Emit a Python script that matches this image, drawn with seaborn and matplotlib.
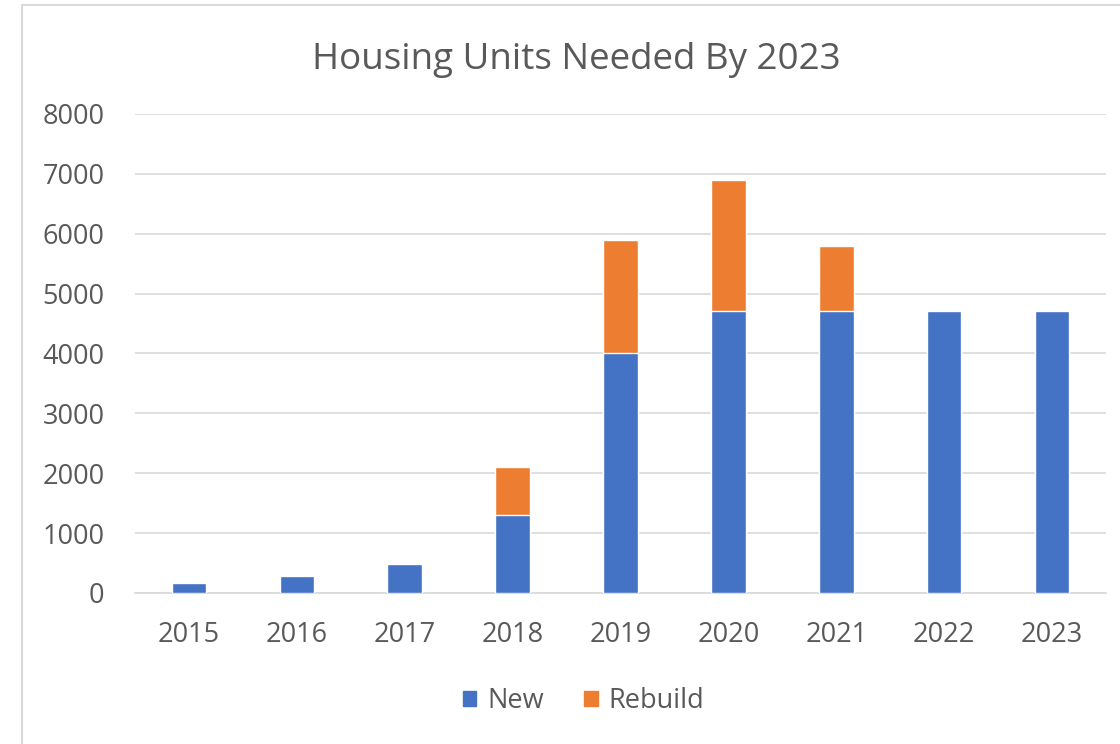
import numpy as np
import pandas as pd
import matplotlib.pyplot as plt
import matplotlib.patches as mpatches
import seaborn as sns

# Data
years = ['2015', '2016', '2017', '2018', '2019', '2020', '2021', '2022', '2023']
new_units = [170, 290, 480, 1300, 4000, 4700, 4700, 4700, 4700]
rebuild_units = [0, 0, 0, 800, 1900, 2200, 1100, 0, 0]

df = pd.DataFrame({'year': years, 'New': new_units, 'Rebuild': rebuild_units})
df['total'] = df['New'] + df['Rebuild']

sns.set_theme(style='white')
plt.rcParams['font.family'] = ['Open Sans', 'DejaVu Sans']
text_col = '#595959'
grid_col = '#d9d9d9'
blue = '#4472C4'
orange = '#ED7D31'

fig = plt.figure(figsize=(11.2, 7.44), dpi=100)
ax = fig.add_axes([0.1205, 0.203, 0.867, 0.644])

# stacked bars: total (orange) drawn first, new (blue) on top
sns.barplot(x='year', y='total', data=df, color=orange, width=0.32,
            saturation=1, ax=ax, zorder=2)
sns.barplot(x='year', y='New', data=df, color=blue, width=0.32,
            saturation=1, ax=ax, zorder=3)

ax.set_ylim(0, 8000)
ax.set_xlim(-0.5, len(years) - 0.5)
ax.set_yticks(range(0, 8001, 1000))
ax.yaxis.grid(True, color=grid_col, linewidth=1.2, zorder=0)
ax.set_axisbelow(True)
for s in ['top', 'right', 'left']:
    ax.spines[s].set_visible(False)
ax.spines['bottom'].set_color(grid_col)
ax.spines['bottom'].set_linewidth(1.2)
ax.set_xlabel('')
ax.set_ylabel('')
ax.tick_params(axis='both', length=0, labelsize=19.5, colors=text_col)
ax.tick_params(axis='y', pad=22)
ax.tick_params(axis='x', pad=20)

fig.suptitle('Housing Units Needed By 2023', x=0.515, y=0.943,
             fontsize=26.5, color=text_col)

handles = [mpatches.Patch(color=blue, label='New'),
           mpatches.Patch(color=orange, label='Rebuild')]
fig.legend(handles=handles, loc='center', bbox_to_anchor=(0.521, 0.058),
           ncol=2, frameon=False, fontsize=19.5, labelcolor=text_col,
           handlelength=0.5, handleheight=0.5, handletextpad=0.4,
           columnspacing=1.5)

# outer chart frame
frame = mpatches.Rectangle((0.0196, -0.1), 1.2, 1.093, transform=fig.transFigure,
                           fill=False, edgecolor=grid_col, linewidth=1.5)
fig.patches.append(frame)

fig.savefig('out.png', dpi=100)
